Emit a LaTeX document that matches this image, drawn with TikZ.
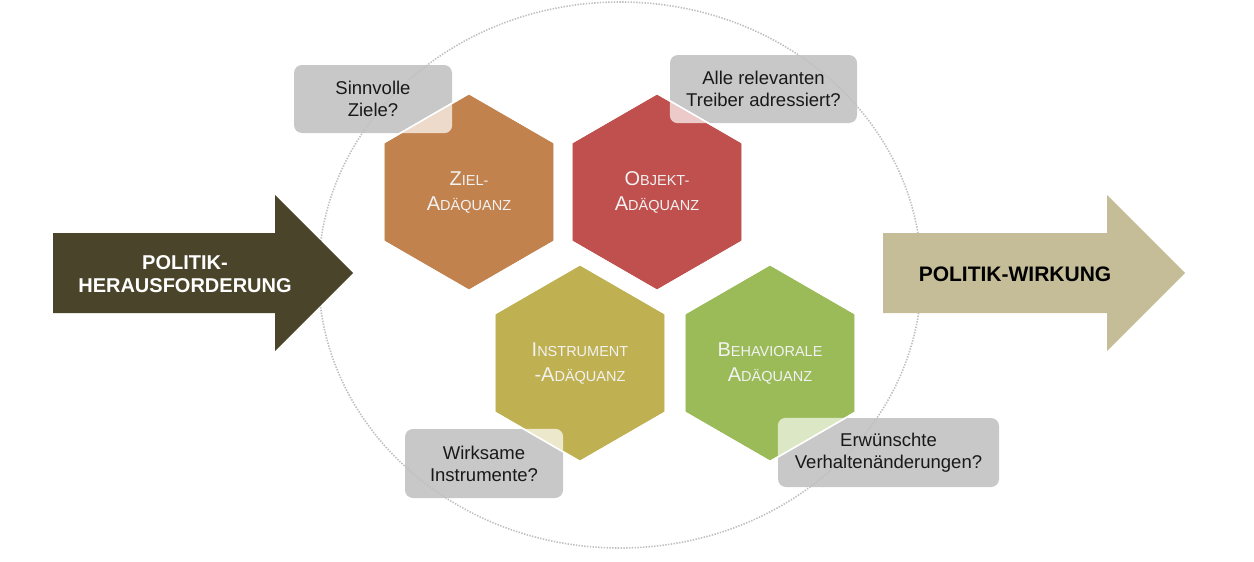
\documentclass[tikz,border=0pt]{standalone}
\usepackage{fontspec}
\setmainfont{Liberation Sans}
\usetikzlibrary{shapes.geometric,positioning,calc}

\definecolor{dunkelpfeil}{HTML}{4A452A}
\definecolor{hellpfeil}{HTML}{C4BD97}
\definecolor{zielc}{HTML}{C2824E}
\definecolor{objektc}{HTML}{C0504D}
\definecolor{instrc}{HTML}{BFB151}
\definecolor{behavc}{HTML}{9BBB59}
\definecolor{frageg}{HTML}{C8C8C8}

% small caps by hand: big first letter, rest smaller
\newcommand{\kapit}[2]{{\fontsize{20}{25}\selectfont #1}{\fontsize{14.5}{25}\selectfont #2}}
% outline of a hexagon node
\newcommand{\hexumriss}[1]{(#1.corner 1) -- (#1.corner 2) -- (#1.corner 3) -- (#1.corner 4) -- (#1.corner 5) -- (#1.corner 6) -- cycle}

\tikzset{
  wabe/.style={regular polygon, regular polygon sides=6, regular polygon rotate=30,
    minimum size=197pt, inner sep=0pt, outer sep=0pt, draw=white, line width=1.5pt,
    text=white!95!black, align=center, font=\fontsize{20}{25}\selectfont},
  frage/.style={rectangle, rounded corners=8pt, fill=frageg, inner sep=0pt},
  fragetext/.style={align=center, font=\fontsize{18.5}{22}\selectfont, text=black!90},
  kreis/.style={draw=black!25, line width=1.6pt, dash pattern=on 1.4pt off 1.4pt},
}

\begin{document}
\begin{tikzpicture}[x=1pt, y=-1pt]
  \useasboundingbox (0,0) rectangle (1254,562);

  % Question boxes (text comes later)
  \node[frage, minimum width=158pt, minimum height=68pt] (sinn) at (373,99) {};
  \node[frage, minimum width=187pt, minimum height=68pt] (alle) at (763.5,89) {};
  \node[frage, minimum width=158pt, minimum height=69pt] (wirk) at (484,463.5) {};
  \node[frage, minimum width=221pt, minimum height=69pt] (erw) at (888.5,452.5) {};

  % Dotted ring
  \coordinate (mitte) at (620,275);
  \draw[kreis] (mitte) ellipse [x radius=301.5pt, y radius=273pt];

  % Hexagons
  \node[wabe, fill=zielc] (ziel) at (469,192) {\kapit{Z}{IEL-}\\\kapit{A}{DÄQUANZ}};
  \node[wabe, fill=objektc] (objekt) at (657,192) {\kapit{O}{BJEKT-}\\\kapit{A}{DÄQUANZ}};
  \node[wabe, fill=instrc] (instr) at (580,363) {\kapit{I}{NSTRUMENT}\\\kapit{-A}{DÄQUANZ}};
  \node[wabe, fill=behavc] (behav) at (770,363) {\kapit{B}{EHAVIORALE}\\\kapit{A}{DÄQUANZ}};

  % Overlaps of boxes and hexagons
  \begin{scope}
    \clip \hexumriss{ziel};
    \fill[zielc!30!white, rounded corners=8pt] (sinn.south west) rectangle (sinn.north east);
  \end{scope}
  \begin{scope}
    \clip \hexumriss{objekt};
    \fill[objektc!30!white, rounded corners=8pt] (alle.south west) rectangle (alle.north east);
  \end{scope}
  \begin{scope}
    \clip \hexumriss{instr};
    \fill[instrc!30!white, rounded corners=8pt] (wirk.south west) rectangle (wirk.north east);
  \end{scope}
  \begin{scope}
    \clip \hexumriss{behav};
    \fill[behavc!35!white, rounded corners=8pt] (erw.south west) rectangle (erw.north east);
  \end{scope}
  \foreach \h in {ziel,objekt,instr,behav}
    \draw[white, line width=1.5pt] \hexumriss{\h};

  % Question texts
  \node[fragetext] (sinntext) at (sinn) {Sinnvolle\\Ziele?};
  \node[fragetext] (alletext) at (alle) {Alle relevanten\\Treiber adressiert?};
  \node[fragetext] (wirktext) at (wirk) {Wirksame\\Instrumente?};
  \node[fragetext] (erwtext) at (erw) {Erwünschte\\Verhaltenänderungen?};

  % Big arrows
  \fill[dunkelpfeil] (53,233) -- (275,233) -- (275,195) -- (353,273) -- (275,351) -- (275,313) -- (53,313) -- cycle;
  \node[text=white, align=center, font=\bfseries\fontsize{20}{23.5}\selectfont] (herausf) at (185,274)
    {POLITIK-\\HERAUSFORDERUNG};
  \fill[hellpfeil] (883,233) -- (1107,233) -- (1107,195) -- (1185,273) -- (1107,351) -- (1107,313) -- (883,313) -- cycle;
  \node[text=black, font=\bfseries\fontsize{21}{24}\selectfont] (wirkung) at (1015,274) {POLITIK-WIRKUNG};
\end{tikzpicture}
\end{document}
